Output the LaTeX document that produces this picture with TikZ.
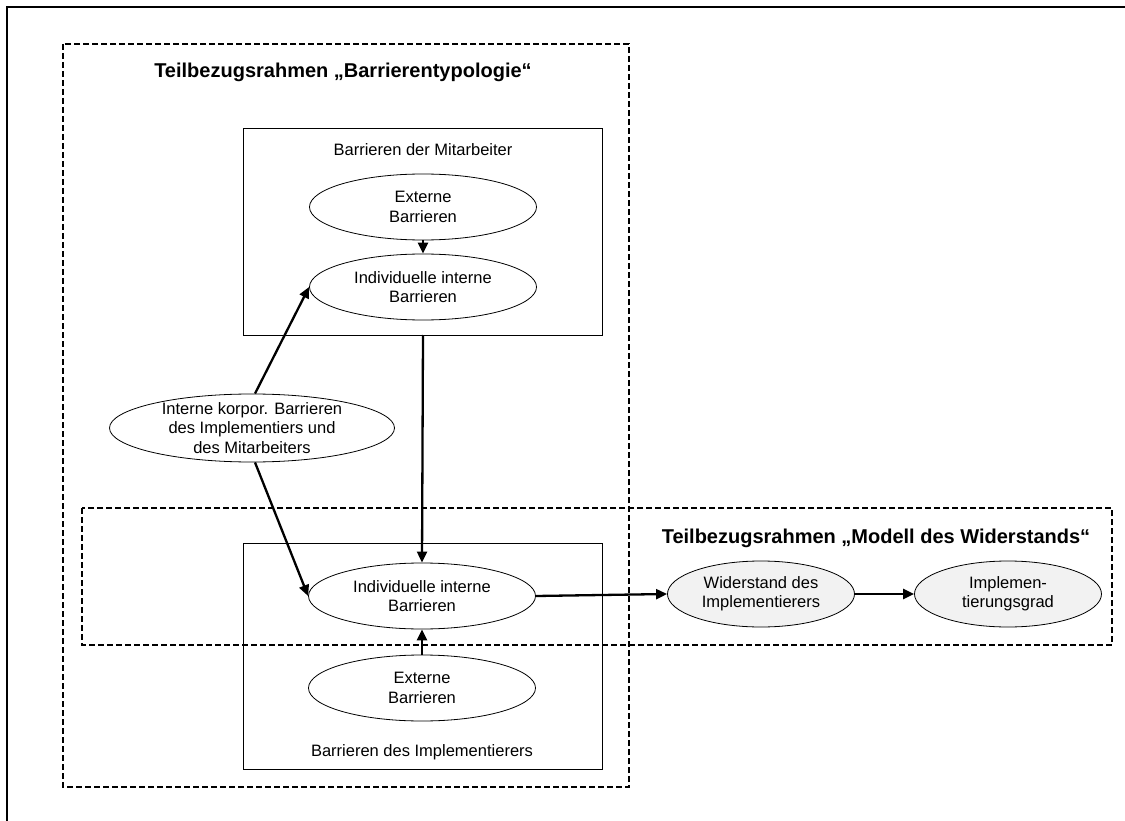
\documentclass[tikz,border=0pt]{standalone}
\usepackage{fontspec}
\setmainfont{Liberation Sans}
\usetikzlibrary{shapes.geometric,arrows.meta}
\begin{document}
\begin{tikzpicture}[x=1pt,y=-1pt,
  ell/.style={ellipse,draw,line width=0.8pt,fill=white,inner sep=0pt,minimum width=227pt,minimum height=66pt},
  grayell/.style={ell,fill=black!5,minimum width=187pt},
  txt/.style={align=center,inner sep=0pt,font=\fontsize{16.5}{19.3}\selectfont},
  title/.style={inner sep=0pt,font=\bfseries\fontsize{20}{24}\selectfont},
  dbox/.style={line width=1.5pt,dash pattern=on 6pt off 3pt},
  sbox/.style={line width=0.9pt},
  conn/.style={line width=2.3pt,-{Triangle[length=11pt,width=10pt]}}
]
\useasboundingbox (0,0) rectangle (1125,821);
\fill[white] (0,0) rectangle (1125,821);
% outer frame
\draw[line width=1.8pt] (7,821) -- (7,7) -- (1125,7);
% dashed frames
\draw[dbox] (63,44) rectangle (629,787);
\draw[dbox] (82,508) rectangle (1112,645);
\node[title] (t1) at (343,72) {Teilbezugsrahmen „Barrierentypologie“};
\node[title] (t2) at (876,538) {Teilbezugsrahmen „Modell des Widerstands“};
% solid boxes
\draw[sbox] (243,128) rectangle (602,335);
\coordinate (boxTopS) at (423,335);
\node[txt] (labMit) at (423,150) {Barrieren der Mitarbeiter};
\draw[sbox] (243,543) rectangle (602,769);
\node[txt] (labImp) at (422,752) {Barrieren des Implementierers};
% ellipses
\node[ell] (ext1) at (423,207) {};
\node[txt] (ext1t) at (ext1.center) {Externe\\Barrieren};
\node[ell] (ind1) at (423,287) {};
\node[txt] (ind1t) at (ind1.center) {Individuelle interne\\Barrieren};
\node[ell,minimum width=285pt,minimum height=68pt] (korp) at (252,428) {};
\node[txt] (korpt) at (korp.center) {Interne korpor. Barrieren\\des Implementiers und\\des Mitarbeiters};
\node[ell] (ind2) at (422,596) {};
\node[txt] (ind2t) at (ind2.center) {Individuelle interne\\Barrieren};
\node[ell] (ext2) at (422,688) {};
\node[txt] (ext2t) at (ext2.center) {Externe\\Barrieren};
\node[grayell] (wid) at (761,594) {};
\node[txt] (widt) at (wid.center) {Widerstand des\\Implementierers};
\node[grayell] (impl) at (1008,594) {};
\node[txt] (implt) at (impl.center) {Implemen-\\tierungsgrad};
% connectors
\draw[conn] (ext1.south) -- (ind1.north);
\draw[conn] ([xshift=3pt]korp.north) -- (ind1.west);
\draw[conn] ([xshift=3pt]korp.south) -- (ind2.west);
\draw[conn] (boxTopS) -- (ind2.north);
\draw[conn] (ext2.north) -- (ind2.south);
\draw[conn] (ind2.east) -- (wid.west);
\draw[conn] (wid.east) -- (impl.west);
\end{tikzpicture}
\end{document}
